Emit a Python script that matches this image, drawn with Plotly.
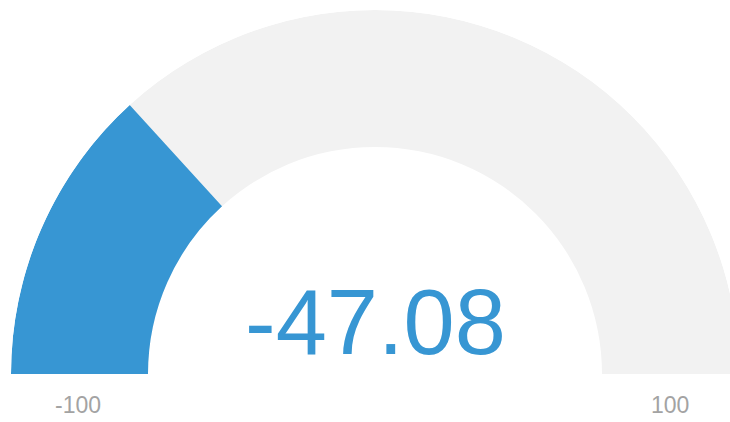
import plotly.graph_objects as go

# data
gauge_min = -100
gauge_max = 100
gauge_value = -47.08
min_label = "-100"
max_label = "100"
value_label = "-47.08"

blue = "#3796d3"
track = "#f2f2f2"
label_color = "#a3a3a3"

inner_frac = 227 / 364  # inner radius relative to outer

span = 180.0
theta_val = (gauge_value - gauge_min) / (gauge_max - gauge_min) * span

W, H = 740, 422
ML, MR, MT, MB = 11, 1, 10, 48
PW, PH = W - ML - MR, H - MT - MB

fig = go.Figure()
fig.add_trace(go.Barpolar(
    r=[1 - inner_frac], base=[inner_frac], theta=[span / 2], width=[span],
    marker=dict(color=track, line=dict(width=0)), hoverinfo="skip", showlegend=False,
))
fig.add_trace(go.Barpolar(
    r=[1 - inner_frac], base=[inner_frac], theta=[theta_val / 2], width=[theta_val],
    marker=dict(color=blue, line=dict(width=0)), hoverinfo="skip", showlegend=False,
))

fig.update_layout(
    width=W, height=H,
    margin=dict(l=ML, r=MR, t=MT, b=MB, pad=0),
    paper_bgcolor="white",
    polar=dict(
        domain=dict(x=[0, 1], y=[0, 1]),
        sector=[0, 180],
        hole=0,
        bgcolor="rgba(0,0,0,0)",
        bargap=0,
        radialaxis=dict(visible=False, range=[0, 1]),
        angularaxis=dict(visible=False, rotation=180, direction="clockwise",
                         showgrid=False, showline=False),
    ),
    font=dict(family="Liberation Sans, Arial, sans-serif"),
    showlegend=False,
)


def px_to_paper(px, py):
    return (px - ML) / PW, (H - MB - py) / PH


for txt, (px, py) in [(min_label, (78, 405)), (max_label, (670, 405))]:
    x, y = px_to_paper(px, py)
    fig.add_annotation(x=x, y=y, xref="paper", yref="paper", text=txt, showarrow=False,
                       xanchor="center", yanchor="middle",
                       font=dict(size=23, color=label_color))

x, y = px_to_paper(375, 321.5)
fig.add_annotation(x=x, y=y, xref="paper", yref="paper", text=value_label, showarrow=False,
                   xanchor="center", yanchor="middle",
                   font=dict(size=92, color=blue))

fig.write_html(
    "out.html",
    config={"displayModeBar": False},
    post_script="document.documentElement.style.overflow='hidden';"
                "document.body.style.margin='0';document.body.style.overflow='hidden';",
)
